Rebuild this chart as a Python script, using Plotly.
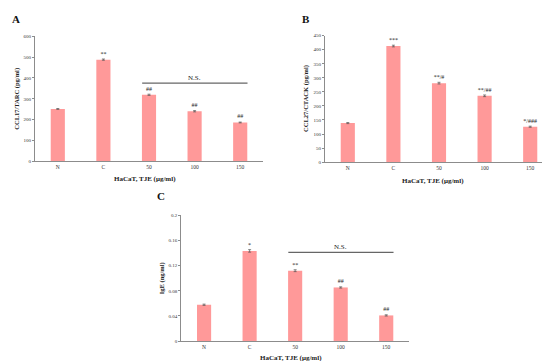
import plotly.graph_objects as go

categories = ["N", "C", "50", "100", "150"]

tarc_values = [251, 488, 319, 240, 186]
tarc_errors = [2, 3, 3, 3, 2]
tarc_marks = ["", "**", "##", "##", "##"]

ctack_values = [139, 413, 281, 236, 126]
ctack_errors = [2, 3, 3, 3, 2]
ctack_marks = ["", "***", "**/#", "**/##", "*/###"]

ige_values = [0.0578, 0.1435, 0.112, 0.0853, 0.0408]
ige_errors = [0.001, 0.002, 0.0015, 0.001, 0.001]
ige_marks = ["", "*", "**", "##", "##"]

tarc_ticks = [0, 100, 200, 300, 400, 500, 600]
ctack_ticks = [0, 50, 100, 150, 200, 250, 300, 350, 400, 450]
ige_ticks = [0, 0.04, 0.08, 0.12, 0.16, 0.2]
ige_ticklabels = ["0", "0.04", "0.08", "0.12", "0.16", "0.2"]

W, H = 550, 361
BAR = "#FF9999"
AX = "#8c8c8c"
SERIF = "Liberation Serif, Times New Roman, serif"


def px(x):
    return x / W


def py(y):
    return 1 - y / H


fig = go.Figure()

panels = [
    dict(vals=tarc_values, errs=tarc_errors, marks=tarc_marks, xd=(27, 255), yd=(153.3, 26.7),
         yr=600, ticks=tarc_ticks, ticklabels=[str(t) for t in tarc_ticks],
         ytitle="CCL17/TARC (pg/ml)", ytx=9, xtx=137, xty=171, lab="A", labx=8, laby=9, ns=375),
    dict(vals=ctack_values, errs=ctack_errors, marks=ctack_marks, xd=(317, 545), yd=(154.3, 26),
         yr=450, ticks=ctack_ticks, ticklabels=[str(t) for t in ctack_ticks],
         ytitle="CCL27/CTACK (pg/ml)", ytx=298, xtx=425, xty=173, lab="B", labx=298, laby=9, ns=None),
    dict(vals=ige_values, errs=ige_errors, marks=ige_marks, xd=(173.3, 401), yd=(335.7, 208.3),
         yr=0.2, ticks=ige_ticks, ticklabels=ige_ticklabels,
         ytitle="IgE (ng/ml)", ytx=154, xtx=283, xty=353, lab="C", labx=153, laby=189, ns=0.1413),
]

for i, p in enumerate(panels):
    n = "" if i == 0 else str(i + 1)
    xa, ya = "x" + n, "y" + n
    fig.add_trace(go.Bar(
        x=categories, y=p["vals"], xaxis=xa, yaxis=ya,
        marker=dict(color=BAR, line=dict(width=0)),
        error_y=dict(type="data", array=p["errs"], color="#555", thickness=0.7, width=1.5),
        text=p["marks"], textposition="outside", cliponaxis=False,
        textfont=dict(family=SERIF, size=6, color="#222"),
        showlegend=False,
    ))
    xkey = "xaxis" + n
    ykey = "yaxis" + n
    fig.layout[xkey] = dict(
        domain=[px(p["xd"][0]), px(p["xd"][1])], anchor=ya,
        showline=True, linecolor=AX, linewidth=1, ticks="", showgrid=False,
        tickfont=dict(family=SERIF, size=5.5, color="#333"), fixedrange=True,
    )
    fig.layout[ykey] = dict(
        domain=[py(p["yd"][0]), py(p["yd"][1])], anchor=xa, range=[0, p["yr"]],
        showline=True, linecolor=AX, linewidth=1, ticks="outside", ticklen=2,
        tickcolor=AX, tickvals=p["ticks"], ticktext=p["ticklabels"], showgrid=False,
        zeroline=False, tickfont=dict(family=SERIF, size=5, color="#333"),
    )
    ymid = (p["yd"][0] + p["yd"][1]) / 2
    fig.add_annotation(x=px(p["ytx"]), y=py(ymid), xref="paper", yref="paper",
                       xanchor="center", yanchor="middle",
                       text="<b>" + p["ytitle"] + "</b>", textangle=-90, showarrow=False,
                       font=dict(family=SERIF, size=6.5, color="#222"))
    fig.add_annotation(x=px(p["xtx"]), y=py(p["xty"]), xref="paper", yref="paper",
                       xanchor="center", yanchor="middle",
                       text="<b>HaCaT, TJE (μg/ml)</b>", showarrow=False,
                       font=dict(family=SERIF, size=7, color="#222"))
    fig.add_annotation(x=px(p["labx"]), y=py(p["laby"]), xref="paper", yref="paper",
                       xanchor="center", yanchor="middle",
                       text="<b>" + p["lab"] + "</b>", showarrow=False,
                       font=dict(family=SERIF, size=11, color="#111"))
    if p["ns"] is not None:
        fig.add_shape(type="line", xref=xa, yref=ya, x0=1.85, x1=4.16, y0=p["ns"], y1=p["ns"],
                      line=dict(color="#666", width=1.2))
        fig.add_annotation(x=3.0, y=p["ns"], xref=xa, yref=ya, text="N.S.", showarrow=False,
                           yanchor="bottom", yshift=-1,
                           font=dict(family=SERIF, size=7, color="#222"))

fig.update_layout(
    width=W, height=H, autosize=False,
    margin=dict(l=0, r=0, t=0, b=0),
    paper_bgcolor="white", plot_bgcolor="white",
    bargap=0.69,
)

fig.write_html("out.html")
